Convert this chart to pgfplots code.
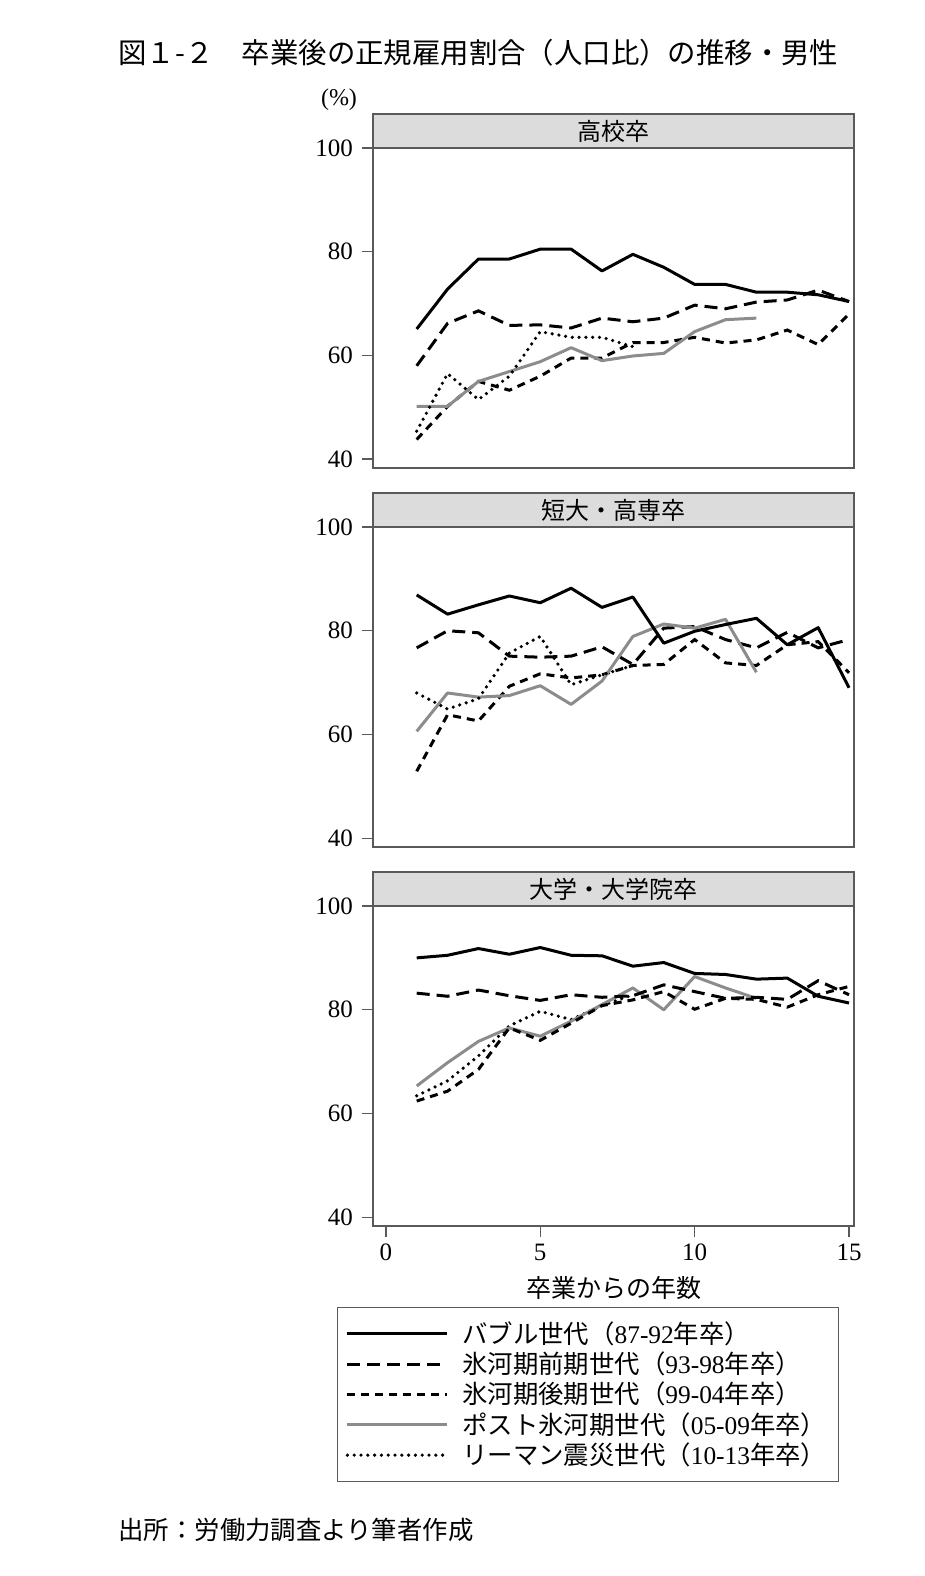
\documentclass[border=0pt]{standalone}
\usepackage{fontspec}
\setmainfont{Liberation Serif}
\newfontfamily\jp{Noto Sans CJK JP}
\usepackage{pgfplots}
\usepackage{pgfplotstable}
\pgfplotsset{compat=1.18}
\definecolor{frame}{HTML}{5A5A5A}
\definecolor{hdr}{HTML}{DCDCDC}
\definecolor{postgray}{HTML}{8C8C8C}

\pgfplotstableread{
x bubble early late post lehman
1 65.1 58.0 43.8 50.2 45.4
2 72.8 66.2 50.2 50.2 56.5
3 78.6 68.6 55.0 55.0 51.5
4 78.6 65.8 53.3 56.9 56.0
5 80.5 65.9 56.0 58.8 64.6
6 80.5 65.3 59.5 61.5 63.5
7 76.3 67.2 59.5 59.0 63.5
8 79.5 66.5 62.5 59.9 61.7
9 77.0 67.2 62.5 60.4 nan
10 73.7 69.7 63.5 64.6 nan
11 73.7 69.0 62.4 66.9 nan
12 72.2 70.3 63.0 67.2 nan
13 72.2 70.7 64.9 nan nan
14 71.7 72.6 62.1 nan nan
15 70.4 70.4 68.0 nan nan
}\tabA

\pgfplotstableread{
x bubble early late post lehman
1 86.9 76.7 52.9 60.6 68.0
2 83.2 80.0 63.8 68.0 64.9
3 85.0 79.6 62.6 67.2 66.9
4 86.7 75.1 69.3 67.5 75.7
5 85.4 74.9 71.7 69.4 78.9
6 88.2 75.1 70.9 65.8 69.6
7 84.5 76.9 71.5 70.3 71.5
8 86.5 73.5 73.3 78.9 73.3
9 77.6 80.5 73.5 81.3 nan
10 79.9 80.8 78.3 80.5 nan
11 81.2 78.3 73.8 82.2 nan
12 82.4 76.7 73.3 72.0 nan
13 77.3 79.7 77.3 nan nan
14 80.6 76.7 77.9 nan nan
15 69.0 78.3 71.9 nan nan
}\tabB

\pgfplotstableread{
x bubble early late post lehman
1 90.0 83.2 62.4 65.3 63.4
2 90.5 82.6 64.3 69.8 66.3
3 91.8 83.8 68.5 73.9 71.1
4 90.7 82.7 76.5 76.5 76.9
5 92.0 81.8 74.1 74.9 79.7
6 90.5 82.9 77.4 77.8 78.1
7 90.4 82.4 80.8 81.0 80.8
8 88.4 82.7 81.9 84.2 82.9
9 89.1 84.8 83.5 80.0 nan
10 87.0 83.5 80.1 86.4 nan
11 86.8 82.2 82.2 84.2 nan
12 85.9 82.4 82.0 82.2 nan
13 86.1 82.0 80.5 nan nan
14 82.6 85.6 82.9 nan nan
15 81.3 82.9 84.5 nan nan
}\tabC

\pgfplotsset{
  panel/.style={
    scale only axis, width=240.5pt, height=160pt,
    xmin=-0.415, xmax=15.16, ymin=38.3, ymax=100,
    ytick={40,60,80,100},
    tick align=outside, major tick length=5.5pt,
    ytick pos=left, xtick pos=bottom,
    axis line style={draw=frame, line width=0.7pt},
    tick style={draw=frame, line width=0.7pt},
    /pgf/number format/assume math mode=true,
    ticklabel style={font=\fontsize{12.5}{14}\selectfont},
    yticklabel style={xshift=-1pt},
  },
  s1/.style={black, line width=1.5pt, line join=round},
  s2/.style={black, line width=1.5pt, dash pattern=on 6.5pt off 3.5pt},
  s3/.style={black, line width=1.5pt, dash pattern=on 4pt off 3pt},
  s4/.style={postgray, line width=1.5pt, line join=round},
  s5/.style={black, line width=1.8pt, dash pattern=on 0pt off 3.4pt, line cap=round},
}

\newcommand\hdr[2]{\node[draw=frame, fill=hdr, line width=0.7pt, minimum width=240.5pt,
  minimum height=17pt, inner sep=0pt, outer sep=0pt, anchor=south west,
  font=\fontsize{12}{14}\selectfont] at (#1.north west) {\jp #2};}

\begin{document}
\begin{tikzpicture}
\path[use as bounding box] (0,0) rectangle (462.5pt,-788pt);

\node[anchor=west, inner sep=0pt, font=\fontsize{14.2}{16}\selectfont] at (59pt,-26.5pt)
  {\jp 図１-２　卒業後の正規雇用割合（人口比）の推移・男性};
\node[inner sep=0pt, font=\fontsize{12}{14}\selectfont] at (169.5pt,-50pt) {(\%)};

\begin{axis}[panel, name=p1, at={(186.5pt,-74pt)}, anchor=north west, xtick=\empty]
  \addplot[s3] table[x=x, y=late] {\tabA};
  \addplot[s2] table[x=x, y=early] {\tabA};
  \addplot[s4] table[x=x, y=post] {\tabA};
  \addplot[s5] table[x=x, y=lehman] {\tabA};
  \addplot[s1] table[x=x, y=bubble] {\tabA};
\end{axis}
\hdr{p1}{高校卒}

\begin{axis}[panel, name=p2, at={(186.5pt,-263.5pt)}, anchor=north west, xtick=\empty]
  \addplot[s3] table[x=x, y=late] {\tabB};
  \addplot[s2] table[x=x, y=early] {\tabB};
  \addplot[s4] table[x=x, y=post] {\tabB};
  \addplot[s5] table[x=x, y=lehman] {\tabB};
  \addplot[s1] table[x=x, y=bubble] {\tabB};
\end{axis}
\hdr{p2}{短大・高専卒}

\begin{axis}[panel, name=p3, at={(186.5pt,-453pt)}, anchor=north west,
  xtick={0,5,10,15},
  xlabel={\jp 卒業からの年数},
  xlabel style={font=\fontsize{12.5}{14}\selectfont, yshift=-1pt},
  legend style={at={(-0.075,-0.252)}, anchor=north west, draw=frame, line width=0.7pt,
    inner xsep=4pt, inner ysep=5pt, font=\fontsize{12.7}{15}\selectfont, row sep=-1.2pt,
    column sep=4.5pt, cells={anchor=west}},
  legend cell align=left,
  legend image code/.code={\draw[#1] (0pt,0pt) -- (50pt,0pt);},
  legend plot pos=left,
  reverse legend,
]
  \addplot[s5] table[x=x, y=lehman] {\tabC};
  \addlegendentry{{\jp リーマン震災世代（}10-13{\jp 年卒）}}
  \addplot[s4] table[x=x, y=post] {\tabC};
  \addlegendentry{{\jp ポスト氷河期世代（}05-09{\jp 年卒）}}
  \addplot[s3] table[x=x, y=late] {\tabC};
  \addlegendentry{{\jp 氷河期後期世代（}99-04{\jp 年卒）}}
  \addplot[s2] table[x=x, y=early] {\tabC};
  \addlegendentry{{\jp 氷河期前期世代（}93-98{\jp 年卒）}}
  \addplot[s1] table[x=x, y=bubble] {\tabC};
  \addlegendentry{{\jp バブル世代（}87-92{\jp 年卒）}}
\end{axis}
\hdr{p3}{大学・大学院卒}

\node[anchor=west, inner sep=0pt, font=\fontsize{12.7}{15}\selectfont] at (59pt,-765pt)
  {\jp 出所：労働力調査より筆者作成};
\end{tikzpicture}
\end{document}
